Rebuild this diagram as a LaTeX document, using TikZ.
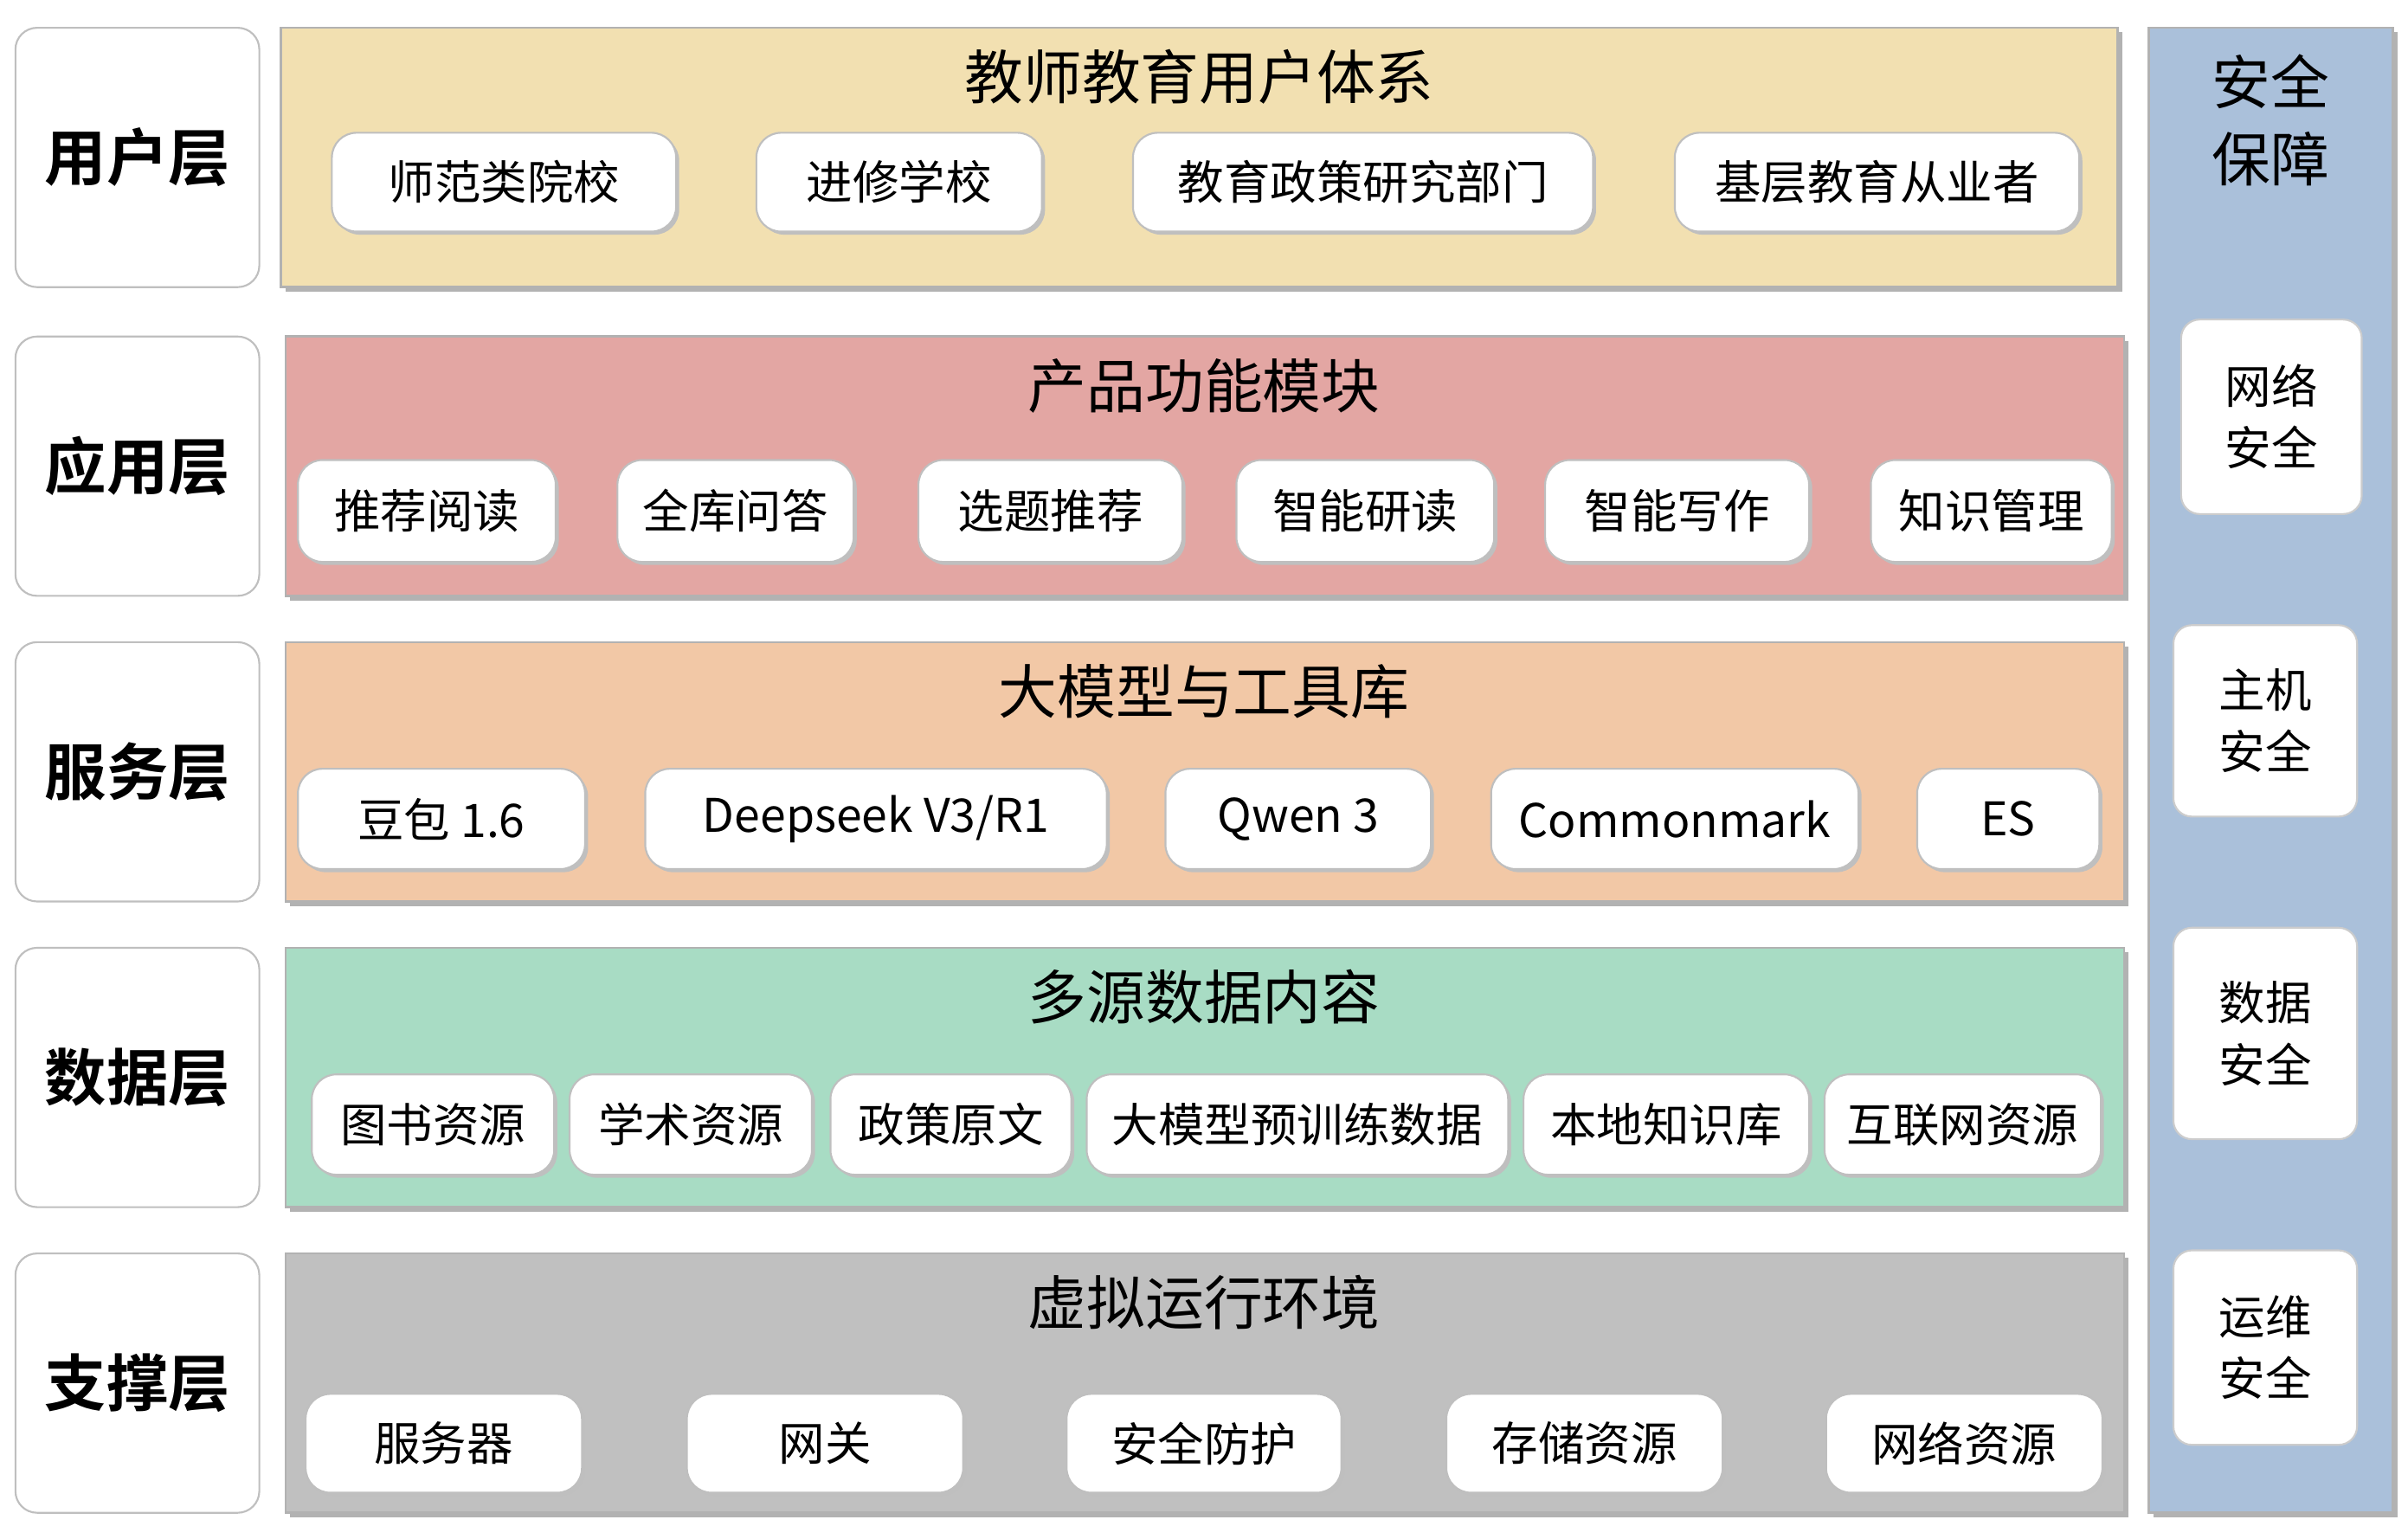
\documentclass[tikz,border=0pt]{standalone}
\usepackage{fontspec}
\setmainfont{Noto Sans CJK SC}
\newfontfamily\cjkb{Noto Sans CJK SC}[BoldFont={* Bold}]
\begin{document}
\begin{tikzpicture}[x=1pt,y=-1pt,
 lab/.style={draw=black!25,line width=1.2pt,rounded corners=14pt,fill=white},
 sub/.style={draw=black!25,line width=1.2pt,rounded corners=16pt,fill=white},
 ttl/.style={font=\fontsize{38}{42}\selectfont},
 sec/.style={draw=black!20,line width=1.2pt,rounded corners=12pt,fill=white}]
\useasboundingbox (0,0) rectangle (1560,997);
\newcommand\subbox[6]{\fill[black!25,rounded corners=16pt] (#1+2,#2+2) rectangle (#3+2,#4+2); \draw[sub] (#1,#2) rectangle (#3,#4); \node (#5) at ({(#1+#3)/2},{(#2+#4)/2}) {\fontsize{30}{34}\selectfont #6};}
% left labels
\foreach \y/\t/\n in {18/用户层/l1,218/应用层/l2,416/服务层/l3,614/数据层/l4,812/支撑层/l5}{
 \draw[lab] (10,\y) rectangle (168,\y+168);
 \node[font=\cjkb\bfseries\fontsize{40}{44}\selectfont] (\n) at (89,\y+84) {\t};}
% bands
\fill[black!30] (185,21) rectangle (1375,189);
\draw[draw=black!30,line width=1.5pt,fill={rgb,255:red,242;green,224;blue,177}] (182,18) rectangle (1372,186);
\node[ttl] (t1) at (777,50) {教师教育用户体系};
\foreach \y/\c/\t/\n in {218/{rgb,255:red,227;green,166;blue,163}/产品功能模块/t2,416/{rgb,255:red,242;green,200;blue,166}/大模型与工具库/t3,614/{rgb,255:red,168;green,220;blue,196}/多源数据内容/t4,812/{rgb,255:red,192;green,192;blue,192}/虚拟运行环境/t5}{
 \fill[black!30] (188,\y+3) rectangle (1379,\y+171);
 \draw[draw=black!30,line width=1.5pt,fill=\c] (185,\y) rectangle (1376,\y+168);
 \node[ttl] (\n) at (780,\y+32) {\t};}
% sub boxes
\subbox{215}{86}{438}{150}{a1}{师范类院校}
\subbox{490}{86}{675}{150}{a2}{进修学校}
\subbox{734}{86}{1032}{150}{a3}{教育政策研究部门}
\subbox{1085}{86}{1347}{150}{a4}{基层教育从业者}
\subbox{193}{298}{360}{364}{b1}{推荐阅读}
\subbox{400}{298}{553}{364}{b2}{全库问答}
\subbox{595}{298}{766}{364}{b3}{选题推荐}
\subbox{801}{298}{968}{364}{b4}{智能研读}
\subbox{1001}{298}{1172}{364}{b5}{智能写作}
\subbox{1212}{298}{1368}{364}{b6}{知识管理}
\subbox{193}{498}{379}{563}{c1}{豆包 1.6}
\subbox{418}{498}{717}{563}{c2}{Deepseek V3/R1}
\subbox{755}{498}{927}{563}{c3}{Qwen 3}
\subbox{966}{498}{1204}{563}{c4}{Commonmark}
\subbox{1242}{498}{1360}{563}{c5}{ES}
\subbox{202}{696}{359}{761}{d1}{图书资源}
\subbox{369}{696}{526}{761}{d2}{学术资源}
\subbox{538}{696}{694}{761}{d3}{政策原文}
\subbox{704}{696}{977}{761}{d4}{大模型预训练数据}
\subbox{987}{696}{1172}{761}{d5}{本地知识库}
\subbox{1182}{696}{1361}{761}{d6}{互联网资源}
\subbox{198}{903}{377}{967}{e1}{服务器}
\subbox{445}{903}{624}{967}{e2}{网关}
\subbox{691}{903}{869}{967}{e3}{安全防护}
\subbox{937}{903}{1116}{967}{e4}{存储资源}
\subbox{1183}{903}{1362}{967}{e5}{网络资源}
% right column
\fill[black!30] (1395,21) rectangle (1553,983);
\draw[draw=black!30,line width=1.5pt,fill={rgb,255:red,170;green,192;blue,218}] (1392,18) rectangle (1550,980);
\node[font=\fontsize{38}{50}\selectfont,align=center] (s0) at (1471,78) {安全\\保障};
\foreach \xa/\ya/\xb/\yb/\t/\n in {1413/207/1530/333/网络/s1,1408/405/1527/529/主机/s2,1408/601/1527/738/数据/s3,1408/810/1527/936/运维/s4}{
 \draw[sec] (\xa,\ya) rectangle (\xb,\yb);
 \node[font=\fontsize{30}{40}\selectfont,align=center] (\n) at ({(\xa+\xb)/2},{(\ya+\yb)/2}) {\t\\安全};}
\end{tikzpicture}
\end{document}
